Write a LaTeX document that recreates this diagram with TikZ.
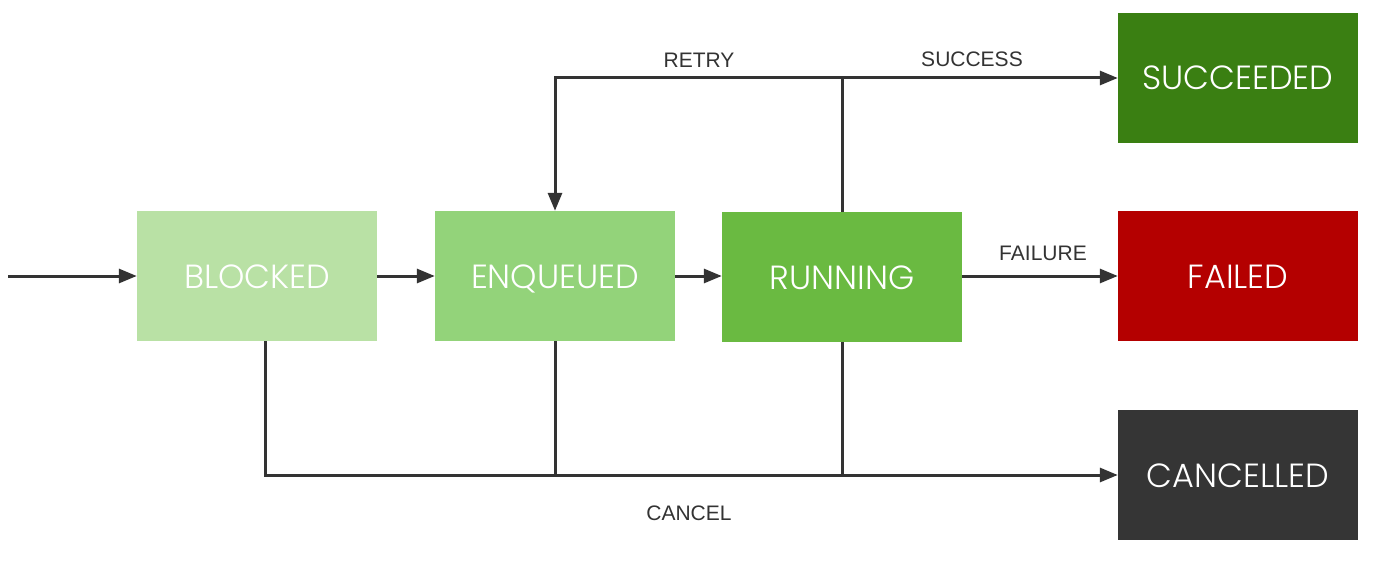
\documentclass[tikz,border=0pt]{standalone}
\usepackage{fontspec}
\setmainfont{Liberation Sans}
\newfontfamily\boxfont{Poppins Light}
\usetikzlibrary{positioning,arrows.meta}
\definecolor{blockedc}{HTML}{B9E1A5}
\definecolor{enqueuedc}{HTML}{93D37A}
\definecolor{runningc}{HTML}{6ABA41}
\definecolor{succeededc}{HTML}{3A7F12}
\definecolor{failedc}{HTML}{B40000}
\definecolor{cancelledc}{HTML}{353535}
\definecolor{linec}{HTML}{333333}
\begin{document}
\begin{tikzpicture}[x=1pt,y=-1pt]
\tikzstyle{state}=[rectangle,minimum width=240pt,minimum height=130pt,inner sep=0pt,text height=24pt,text depth=0pt,text=white,font=\boxfont\fontsize{33.5}{36}\selectfont]
\tikzstyle{wire}=[draw=linec,line width=3pt]
\tikzstyle{arrow}=[wire,-{Triangle[length=18pt,width=14pt]}]
\tikzstyle{tag}=[text=linec,font=\fontsize{21}{24}\selectfont]
    \useasboundingbox (0,0) rectangle (1400,567);
    \node[state,fill=blockedc] (blocked) at (257,276) {BLOCKED};
    \node[state,fill=enqueuedc] (enqueued) at (555,276) {ENQUEUED};
    \node[state,fill=runningc] (running) at (842,277) {RUNNING};
    \node[state,fill=succeededc] (succeeded) at (1238,78) {SUCCEEDED};
    \node[state,fill=failedc] (failed) at (1238,276) {FAILED};
    \node[state,fill=cancelledc] (cancelled) at (1238,475) {CANCELLED};
    \coordinate (start) at (8,276);
    \coordinate (top) at (842,78);
    \node[tag] (retry) at (699,60) {RETRY};
    \node[tag] (success) at (972,59) {SUCCESS};
    \node[tag] (failure) at (1043,253) {FAILURE};
    \node[tag] (cancel) at (689,513) {CANCEL};
    \draw[arrow] (start) -- (blocked.west);
    \draw[arrow] (blocked.east) -- (enqueued.west);
    \draw[arrow] (enqueued.east) -- (enqueued.east -| running.west);
    \draw[arrow] (running.east |- failed.west) -- (failed.west);
    \draw[wire] (running.north) -- (top);
    \draw[arrow] (top) -- (succeeded.west);
    \draw[arrow] (top) -| (enqueued.north);
    \draw[arrow] ([xshift=8pt]blocked.south) |- (cancelled.west);
    \draw[wire] (enqueued.south) -- (enqueued.south |- cancelled.west);
    \draw[wire] (running.south) -- (running.south |- cancelled.west);
\end{tikzpicture}
\end{document}
